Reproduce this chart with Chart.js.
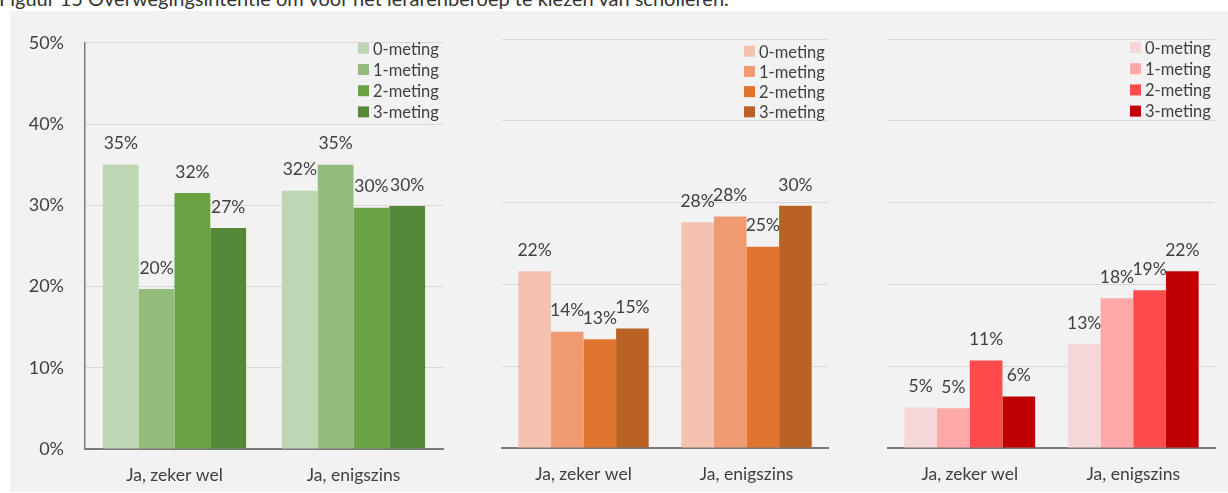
<!DOCTYPE html>
<html>
<head>
<meta charset="utf-8">
<script src="https://cdn.jsdelivr.net/npm/chart.js@4"></script>
<style>
  body { margin: 0; background: #fff; width: 1228px; height: 493px; overflow: hidden; position: relative; font-family: Lato, "Open Sans", sans-serif; }
  #title { position: absolute; left: -1px; top: -12px; font-size: 20px; line-height: 20px; color: #333; white-space: nowrap; }
  #bg { position: absolute; left: 10px; top: 11px; width: 1218px; height: 481px; background: #f2f2f2; }
  canvas { position: absolute; }
</style>
</head>
<body>
<div id="title">Figuur 15 Overwegingsintentie om voor het lerarenberoep te kiezen van scholieren.</div>
<div id="bg"></div>
<div id="w1" style="position:absolute;left:10px;top:11px;width:450px;height:481px"><canvas id="c1"></canvas></div>
<div id="w2" style="position:absolute;left:470px;top:11px;width:380px;height:481px"><canvas id="c2"></canvas></div>
<div id="w3" style="position:absolute;left:860px;top:11px;width:368px;height:481px"><canvas id="c3"></canvas></div>
<script>
// Categories and series
const categories = ["Ja, zeker wel", "Ja, enigszins"];
const metingen = ["0-meting", "1-meting", "2-meting", "3-meting"];
const yTicks = [0, 10, 20, 30, 40, 50];

// values in percent, one array per meting (zeker wel, enigszins)
const greenValues = [
    [35.0, 31.8],
    [19.7, 35.0],
    [31.5, 29.7],
    [27.2, 29.9]
];
const orangeValues = [
    [21.6, 27.6],
    [14.2, 28.3],
    [13.3, 24.6],
    [14.6, 29.6]
];
const redValues = [
    [4.96, 12.7],
    [4.85, 18.3],
    [10.7, 19.3],
    [6.3, 21.6]
];

const greenColors = ["#bfd6b3", "#93bc7b", "#69a343", "#558837"];
const orangeColors = ["#f5c2b0", "#f09a72", "#de742e", "#ba6124"];
const redColors = ["#f5d7d7", "#ffa8a8", "#ff4b4b", "#c00000"];

const textColor = "#404040";
const fontFamily = "Lato, 'Open Sans', sans-serif";

// Draw percentage labels above each bar
const valueLabels = {
    id: 'valueLabels',
    afterDatasetsDraw(chart) {
        const ctx = chart.ctx;
        ctx.save();
        ctx.font = "17.5px " + fontFamily;
        ctx.fillStyle = textColor;
        ctx.textAlign = 'center';
        ctx.textBaseline = 'middle';
        chart.data.datasets.forEach((ds, i) => {
            chart.getDatasetMeta(i).data.forEach((bar, j) => {
                ctx.fillText(Math.round(ds.data[j]) + '%', bar.x, bar.y - 21);
            });
        });
        ctx.restore();
    }
};

// Legend drawn inside the plot, top right
const boxLegend = {
    id: 'boxLegend',
    afterDraw(chart, args, opts) {
        const ctx = chart.ctx;
        const area = chart.chartArea;
        ctx.save();
        ctx.font = "16.5px " + fontFamily;
        ctx.textBaseline = 'middle';
        ctx.textAlign = 'left';
        chart.data.datasets.forEach((ds, i) => {
            const y = area.top + opts.top + i * opts.gap;
            const x = area.right - opts.right;
            ctx.fillStyle = ds.backgroundColor;
            ctx.fillRect(x, y - 5.5, 11, 11);
            ctx.fillStyle = textColor;
            ctx.fillText(ds.label, x + 15, y + 1);
        });
        ctx.restore();
    }
};

function makeChart(id, values, colors, opt) {
    const ctx = document.getElementById(id).getContext('2d');
    return new Chart(ctx, {
        type: 'bar',
        data: {
            labels: categories,
            datasets: metingen.map((m, i) => ({
                label: m,
                data: values[i],
                backgroundColor: colors[i],
                borderWidth: 0,
                categoryPercentage: 0.8,
                barPercentage: 1.0
            }))
        },
        options: {
            responsive: true,
            maintainAspectRatio: false,
            animation: false,
            layout: { padding: opt.padding },
            plugins: {
                legend: { display: false },
                tooltip: { enabled: false },
                boxLegend: opt.legend
            },
            scales: {
                x: {
                    grid: { display: false, drawTicks: false },
                    border: { display: true, color: '#7a7a7a', width: 2 },
                    ticks: { color: textColor, font: { family: fontFamily, size: 17.5 }, padding: 16 },
                    afterFit: s => { s.height = opt.xHeight; }
                },
                y: {
                    min: yTicks[0],
                    max: yTicks[yTicks.length - 1],
                    afterBuildTicks: s => { s.ticks = yTicks.map(v => ({ value: v })); },
                    grid: { color: '#d9d9d9', lineWidth: 1, drawTicks: false },
                    border: { display: opt.yAxis, color: '#7a7a7a', width: 1.5 },
                    ticks: {
                        display: opt.yAxis,
                        color: textColor,
                        padding: 21,
                        font: { family: fontFamily, size: 18 },
                        callback: v => v + '%'
                    },
                    afterFit: s => { s.width = opt.yWidth; }
                }
            }
        },
        plugins: [valueLabels, boxLegend]
    });
}

makeChart('c1', greenValues, greenColors, {
    padding: { left: 0, right: 17, top: 30, bottom: 0 },
    xHeight: 43, yWidth: 75, yAxis: true,
    legend: { right: 85, top: 5.5, gap: 21.2 }
});
makeChart('c2', orangeValues, orangeColors, {
    padding: { left: 0, right: 22, top: 28, bottom: 0 },
    xHeight: 44, yWidth: 32, yAxis: false,
    legend: { right: 84, top: 12.2, gap: 20.2 }
});
makeChart('c3', redValues, redColors, {
    padding: { left: 0, right: 13, top: 28, bottom: 0 },
    xHeight: 44, yWidth: 28, yAxis: false,
    legend: { right: 85, top: 8.5, gap: 21.2 }
});
</script>
</body>
</html>
